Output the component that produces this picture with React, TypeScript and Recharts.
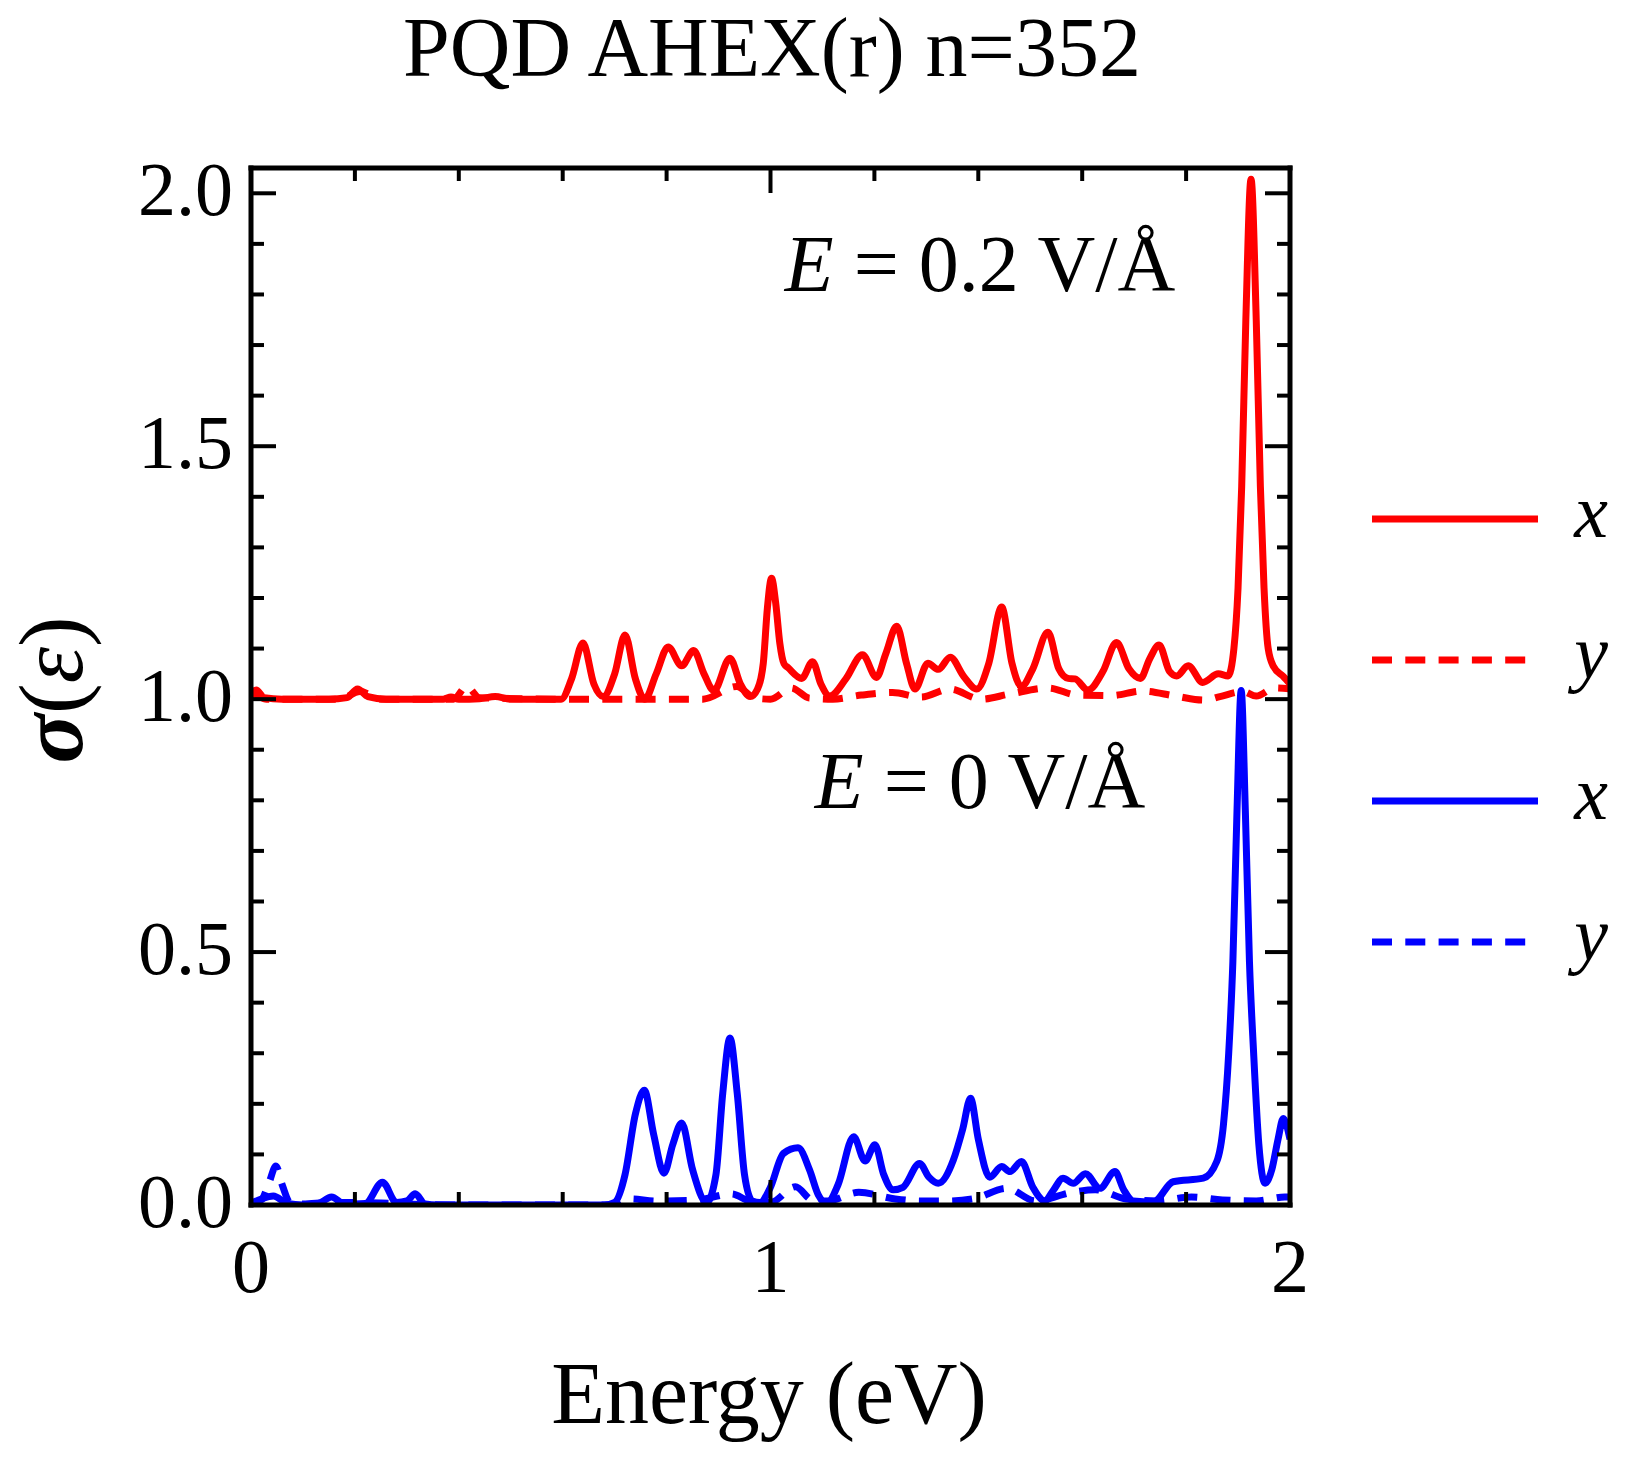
import React from 'react';
import { LineChart, Line, XAxis, YAxis, Legend } from 'recharts';

type Pt = [number, number];

// ---- axis ticks ----
const xTicks = [0, 0.2, 0.4, 0.6, 0.8, 1.0, 1.2, 1.4, 1.6, 1.8, 2.0];
const yTicks = [
  0, 0.1, 0.2, 0.3, 0.4, 0.5, 0.6, 0.7, 0.8, 0.9, 1.0,
  1.1, 1.2, 1.3, 1.4, 1.5, 1.6, 1.7, 1.8, 1.9, 2.0,
];
const xMajorLabels: Record<string, string> = { '0': '0', '1': '1', '2': '2' };
const yMajorLabels: Record<string, string> = { '0': '0.0', '0.5': '0.5', '1': '1.0', '1.5': '1.5', '2': '2.0' };

// ---- series: [energy (eV), sigma] ----
// E = 0.2 V/Å, x component (offset by +1)
const redX: Pt[] = [
  [0.0, 1.005], [0.01, 1.018], [0.025, 1.003], [0.06, 1.0], [0.15, 1.0], [0.185, 1.003],
  [0.205, 1.02], [0.225, 1.005], [0.26, 1.0], [0.37, 1.0], [0.385, 1.004], [0.4, 1.0],
  [0.44, 1.001], [0.47, 1.005], [0.5, 1.0], [0.597, 1.0], [0.617, 1.04], [0.639, 1.111],
  [0.66, 1.03], [0.678, 1.005], [0.7, 1.05], [0.72, 1.127], [0.74, 1.04], [0.758, 1.0],
  [0.78, 1.05], [0.803, 1.103], [0.829, 1.066], [0.852, 1.096], [0.872, 1.05], [0.891, 1.017],
  [0.922, 1.081], [0.942, 1.03], [0.961, 1.005], [0.975, 1.02], [0.986, 1.07], [0.994, 1.18],
  [1.002, 1.239], [1.01, 1.19], [1.018, 1.11], [1.026, 1.07], [1.034, 1.062], [1.06, 1.041],
  [1.081, 1.074], [1.097, 1.03], [1.114, 1.006], [1.145, 1.04], [1.177, 1.088], [1.204, 1.043],
  [1.222, 1.09], [1.243, 1.144], [1.262, 1.07], [1.278, 1.02], [1.303, 1.071], [1.323, 1.059],
  [1.346, 1.083], [1.372, 1.045], [1.397, 1.02], [1.42, 1.07], [1.445, 1.182], [1.465, 1.07],
  [1.483, 1.025], [1.505, 1.06], [1.534, 1.132], [1.555, 1.06], [1.573, 1.041], [1.586, 1.04],
  [1.611, 1.018], [1.64, 1.055], [1.666, 1.112], [1.69, 1.06], [1.712, 1.041], [1.73, 1.08],
  [1.748, 1.107], [1.768, 1.055], [1.782, 1.046], [1.804, 1.066], [1.832, 1.033], [1.862, 1.05],
  [1.881, 1.046], [1.892, 1.1], [1.9, 1.22], [1.907, 1.42], [1.915, 1.75], [1.925, 2.028],
  [1.935, 1.75], [1.943, 1.42], [1.95, 1.22], [1.958, 1.1], [1.968, 1.065], [1.987, 1.045],
  [2.0, 1.03],
];

// E = 0.2 V/Å, y component (offset by +1)
const redY: Pt[] = [
  [0.0, 1.015], [0.012, 1.008], [0.03, 1.0], [0.17, 1.0], [0.21, 1.015], [0.25, 1.0],
  [0.39, 1.0], [0.415, 1.025], [0.44, 1.003], [0.6, 1.0], [0.7, 1.0], [0.8, 1.0],
  [0.87, 1.0], [0.935, 1.025], [0.97, 1.002], [1.0, 1.0], [1.04, 1.022], [1.075, 1.002],
  [1.12, 1.0], [1.175, 1.008], [1.235, 1.013], [1.29, 1.004], [1.345, 1.02], [1.405, 1.0],
  [1.46, 1.01], [1.535, 1.022], [1.59, 1.008], [1.655, 1.007], [1.715, 1.016], [1.78, 1.006],
  [1.835, 0.998], [1.865, 1.005], [1.91, 1.015], [1.935, 1.006], [1.97, 1.022], [2.0, 1.02],
];

// E = 0 V/Å, x component
const blueX: Pt[] = [
  [0.0, 0.003], [0.02, 0.012], [0.043, 0.018], [0.07, 0.003], [0.1, 0.0], [0.13, 0.003],
  [0.155, 0.016], [0.18, 0.002], [0.22, 0.003], [0.253, 0.045], [0.28, 0.005], [0.3, 0.008],
  [0.316, 0.022], [0.335, 0.002], [0.36, 0.0], [0.68, 0.0], [0.7, 0.005], [0.72, 0.06],
  [0.74, 0.18], [0.757, 0.227], [0.775, 0.14], [0.795, 0.063], [0.812, 0.12], [0.829, 0.162],
  [0.85, 0.07], [0.877, 0.005], [0.895, 0.06], [0.908, 0.22], [0.922, 0.33], [0.936, 0.22],
  [0.95, 0.06], [0.965, 0.008], [0.98, 0.005], [0.999, 0.033], [1.025, 0.102], [1.053, 0.113],
  [1.075, 0.07], [1.092, 0.02], [1.108, 0.003], [1.13, 0.04], [1.16, 0.135], [1.182, 0.087],
  [1.201, 0.119], [1.218, 0.06], [1.236, 0.03], [1.255, 0.035], [1.287, 0.082], [1.305, 0.055],
  [1.323, 0.043], [1.352, 0.089], [1.37, 0.15], [1.385, 0.211], [1.4, 0.13], [1.422, 0.055],
  [1.445, 0.076], [1.461, 0.066], [1.483, 0.086], [1.505, 0.035], [1.528, 0.008], [1.545, 0.03],
  [1.563, 0.053], [1.583, 0.043], [1.606, 0.062], [1.634, 0.033], [1.663, 0.066], [1.68, 0.03],
  [1.698, 0.008], [1.737, 0.006], [1.775, 0.046], [1.833, 0.053], [1.859, 0.086], [1.872, 0.16],
  [1.882, 0.3], [1.89, 0.48], [1.898, 0.78], [1.906, 1.017], [1.914, 0.78], [1.922, 0.48],
  [1.93, 0.3], [1.94, 0.12], [1.952, 0.043], [1.965, 0.07], [1.977, 0.13], [1.987, 0.171],
  [2.0, 0.13],
];

// E = 0 V/Å, y component
const blueY: Pt[] = [
  [0.0, 0.003], [0.02, 0.01], [0.035, 0.045], [0.048, 0.077], [0.06, 0.04], [0.075, 0.005],
  [0.1, 0.002], [0.15, 0.005], [0.25, 0.004], [0.3, 0.002], [0.4, 0.0], [0.7, 0.0],
  [0.73, 0.012], [0.78, 0.008], [0.86, 0.01], [0.925, 0.022], [0.96, 0.008], [1.0, 0.005],
  [1.048, 0.036], [1.08, 0.01], [1.11, 0.008], [1.17, 0.025], [1.24, 0.012], [1.29, 0.008],
  [1.34, 0.008], [1.39, 0.012], [1.455, 0.033], [1.51, 0.008], [1.58, 0.025], [1.625, 0.03],
  [1.685, 0.012], [1.745, 0.008], [1.81, 0.016], [1.87, 0.01], [1.935, 0.008], [1.99, 0.016],
  [2.0, 0.016],
];

const toRows = (pts: Pt[]) => pts.map(([e, v]) => ({ e, v }));

const RED = '#ff0000';
const BLUE = '#0000ff';
const DASH = '20 13.3';
const LW = 7;
const FONT = '"Liberation Serif", "Times New Roman", serif';

const legendItems = [
  { label: 'x', color: RED, dash: undefined as string | undefined },
  { label: 'y', color: RED, dash: DASH },
  { label: 'x', color: BLUE, dash: undefined as string | undefined },
  { label: 'y', color: BLUE, dash: DASH },
];

const MAJOR = 25;
const MINOR = 13;
const isXMajor = (v: number) => Math.abs(v - Math.round(v)) < 1e-6;
const isYMajor = (v: number) => Math.abs(v * 2 - Math.round(v * 2)) < 1e-6;
const key = (v: number) => String(Math.round(v * 10) / 10);

function BottomTick(props: any) {
  const { x, y, payload } = props;
  const v = payload.value as number;
  const major = isXMajor(v);
  return (
    <g>
      <line x1={x} y1={y} x2={x} y2={y - (major ? MAJOR : MINOR)} stroke="#000" strokeWidth={4} />
      {major && (
        <text x={x} y={y + 87} textAnchor="middle" fontFamily={FONT} fontSize={76} fill="#000">
          {xMajorLabels[key(v)]}
        </text>
      )}
    </g>
  );
}

function TopTick(props: any) {
  const { x, y, payload } = props;
  const major = isXMajor(payload.value);
  return <line x1={x} y1={y} x2={x} y2={y + (major ? MAJOR : MINOR)} stroke="#000" strokeWidth={4} />;
}

function LeftTick(props: any) {
  const { x, y, payload } = props;
  const v = payload.value as number;
  const major = isYMajor(v);
  return (
    <g>
      <line x1={x} y1={y} x2={x + (major ? MAJOR : MINOR)} y2={y} stroke="#000" strokeWidth={4} />
      {major && (
        <text x={x - 18} y={y + 22} textAnchor="end" fontFamily={FONT} fontSize={76} fill="#000">
          {yMajorLabels[key(v)]}
        </text>
      )}
    </g>
  );
}

function RightTick(props: any) {
  const { x, y, payload } = props;
  const major = isYMajor(payload.value);
  return <line x1={x} y1={y} x2={x - (major ? MAJOR : MINOR)} y2={y} stroke="#000" strokeWidth={4} />;
}

function LegendContent() {
  return (
    <svg width={270} height={520} style={{ display: 'block' }}>
      {legendItems.map((it, i) => {
        const cy = 49 + i * 141;
        return (
          <g key={i}>
            <line x1={12} y1={cy} x2={178} y2={cy} stroke={it.color} strokeWidth={LW} strokeDasharray={it.dash} />
            <text x={231} y={cy + 18} textAnchor="middle" fontFamily={FONT} fontStyle="italic" fontSize={76} fill="#000">
              {it.label}
            </text>
          </g>
        );
      })}
    </svg>
  );
}

const axisLine = { stroke: '#000', strokeWidth: 5, strokeLinecap: 'square' as const };

export default function App() {
  const W = 1637;
  const H = 1460;
  return (
    <div style={{ position: 'absolute', left: 0, top: 0, width: W, height: H, background: '#fff' }}>
      <LineChart width={W} height={H} margin={{ top: 167, left: 250, right: 346, bottom: 254 }}>
        <XAxis
          xAxisId="bottom"
          dataKey="e"
          type="number"
          domain={[0, 2]}
          allowDataOverflow
          ticks={xTicks}
          interval={0}
          height={1}
          tickSize={0}
          tickMargin={0}
          tickLine={false}
          axisLine={axisLine}
          tick={<BottomTick />}
        />
        <XAxis
          xAxisId="top"
          orientation="top"
          dataKey="e"
          type="number"
          domain={[0, 2]}
          allowDataOverflow
          ticks={xTicks}
          interval={0}
          height={1}
          tickSize={0}
          tickMargin={0}
          tickLine={false}
          axisLine={axisLine}
          tick={<TopTick />}
        />
        <YAxis
          yAxisId="left"
          type="number"
          domain={[0, 2.05]}
          allowDataOverflow
          ticks={yTicks}
          interval={0}
          width={1}
          tickSize={0}
          tickMargin={0}
          tickLine={false}
          axisLine={axisLine}
          tick={<LeftTick />}
        />
        <YAxis
          yAxisId="right"
          orientation="right"
          type="number"
          domain={[0, 2.05]}
          allowDataOverflow
          ticks={yTicks}
          interval={0}
          width={1}
          tickSize={0}
          tickMargin={0}
          tickLine={false}
          axisLine={axisLine}
          tick={<RightTick />}
        />
        <Line data={toRows(blueX)} xAxisId="bottom" yAxisId="left" dataKey="v" type="monotone" stroke={BLUE} strokeWidth={LW} strokeLinejoin="round" dot={false} isAnimationActive={false} />
        <Line data={toRows(blueY)} xAxisId="top" yAxisId="right" dataKey="v" type="monotone" stroke={BLUE} strokeWidth={LW} strokeDasharray={DASH} dot={false} isAnimationActive={false} />
        <Line data={toRows(redX)} xAxisId="bottom" yAxisId="left" dataKey="v" type="monotone" stroke={RED} strokeWidth={LW} strokeLinejoin="round" dot={false} isAnimationActive={false} />
        <Line data={toRows(redY)} xAxisId="top" yAxisId="right" dataKey="v" type="monotone" stroke={RED} strokeWidth={LW} strokeDasharray={DASH} dot={false} isAnimationActive={false} />
        <Legend
          layout="vertical"
          align="center"
          verticalAlign="middle"
          wrapperStyle={{ left: 1360, top: 470, width: 270, height: 520 }}
          content={<LegendContent />}
        />
      </LineChart>
      <svg width={W} height={H} style={{ position: 'absolute', left: 0, top: 0, pointerEvents: 'none' }}>
        <text x={772} y={76} textAnchor="middle" fontFamily={FONT} fontSize={84} fill="#000">
          PQD AHEX(r) n=352
        </text>
        <text x={980} y={291} textAnchor="middle" fontFamily={FONT} fontSize={80} fill="#000">
          <tspan fontStyle="italic">E</tspan> = 0.2 V/Å
        </text>
        <text x={980} y={808} textAnchor="middle" fontFamily={FONT} fontSize={80} fill="#000">
          <tspan fontStyle="italic">E</tspan> = 0 V/Å
        </text>
        <text x={769} y={1423} textAnchor="middle" fontFamily={FONT} fontSize={88} fill="#000">
          Energy (eV)
        </text>
        <text transform="translate(82,690) rotate(-90)" textAnchor="middle" fontFamily={FONT} fontSize={92} fill="#000">
          <tspan fontWeight="bold" fontStyle="italic">σ</tspan>
          <tspan>(</tspan>
          <tspan fontStyle="italic">ε</tspan>
          <tspan>)</tspan>
        </text>
      </svg>
    </div>
  );
}
